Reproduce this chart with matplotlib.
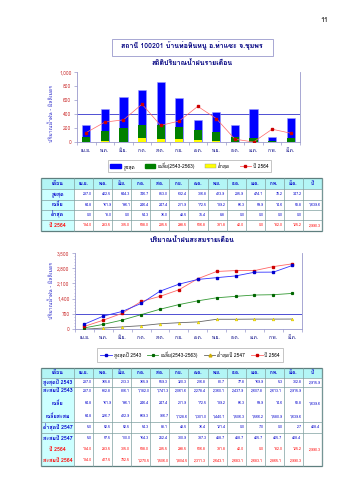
import numpy as np
import matplotlib
matplotlib.use('Agg')
import matplotlib.pyplot as plt
from matplotlib import font_manager
from matplotlib.ft2font import FT2Font
from matplotlib.patches import Rectangle
from matplotlib.lines import Line2D

W, H = 339, 480

# --- data read from the page ---
station = 'สถานี 100201 บ้านท่อทินหนู อ.ท่าแซะ จ.ชุมพร'
title1 = 'สถิติปริมาณน้ำฝนรายเดือน'
title2 = 'ปริมาณน้ำฝนสะสมรายเดือน'
ylabel = 'ปริมาณน้ำฝน - มิลลิเมตร'
months = ['เม.ย.', 'พ.ค.', 'มิ.ย.', 'ก.ค.', 'ส.ค.', 'ก.ย.',
          'ต.ค.', 'พ.ย.', 'ธ.ค.', 'ม.ค.', 'ก.พ.', 'มี.ค.']

max_rain = [237.0, 462.5, 644.3, 746.7, 853.0, 632.4, 316.8, 423.9, 235.9, 474.1, 78.2, 347.2]
avg_rain = [64.8, 161.9, 196.1, 246.4, 247.4, 211.9, 172.5, 139.2, 66.3, 59.9, 14.6, 58.8]
min_rain = [0.0, 18.0, 0.0, 54.3, 36.0, 48.5, 35.4, 8.8, 0.0, 0.0, 0.0, 0.0]
rain_2564 = [134.0, 283.5, 315.0, 538.0, 235.5, 298.5, 506.8, 331.8, 40.0, 0.0, 182.0, 125.2]

max_2543 = [237.0, 365.8, 213.3, 365.9, 559.3, 320.3, 216.8, 81.7, 77.8, 169.9, 5.3, 302.8]
min_2547 = [5.0, 52.5, 52.5, 54.3, 88.1, 48.5, 36.4, 121.4, 0.0, 7.0, 0.0, 2.7]

cum_max_2543 = [237.0, 602.8, 816.1, 1182.0, 1741.3, 2061.6, 2278.4, 2360.1, 2437.9, 2607.8, 2613.1, 2915.9]
cum_avg = [64.8, 226.7, 422.9, 669.3, 916.7, 1128.6, 1301.0, 1440.1, 1506.3, 1566.2, 1580.9, 1639.6]
cum_min_2547 = [5.0, 57.5, 110.0, 164.3, 252.4, 300.9, 337.3, 458.7, 458.7, 465.7, 465.7, 468.4]
cum_2564 = [134.0, 417.5, 732.5, 1270.5, 1506.0, 1804.5, 2311.3, 2643.1, 2683.1, 2683.1, 2865.1, 2990.3]

total_avg = 1639.6
total_2564 = 2990.3
total_max_2543 = 2915.9
total_min_2547 = 468.4


def find_thai_font():
    # pick any installed family that has Thai glyphs
    for f in font_manager.fontManager.ttflist:
        try:
            if 0x0E01 in FT2Font(f.fname).get_charmap():
                return f.name
        except Exception:
            pass
    return 'DejaVu Sans'


thai = find_thai_font()
plt.rcParams['font.family'] = [thai, 'DejaVu Sans']

NAVY = '#000080'
BLUE_TXT = '#0000CC'
RED_TXT = '#FF0000'
TICK_RED = '#CC3333'
AXIS = '#9999CC'


def box(x0, y0, x1, y1):
    return [x0 / W, 1 - y1 / H, (x1 - x0) / W, (y1 - y0) / H]


def fmt(v):
    return f'{v:,.1f}'


fig = plt.figure(figsize=(W / 100, H / 100), dpi=100)
fig.patch.set_facecolor('white')

page = fig.add_axes([0, 0, 1, 1])
page.set_xlim(0, W)
page.set_ylim(H, 0)
page.axis('off')

page.text(324, 20, '11', fontsize=5, ha='center', va='center', color='black')
page.add_patch(Rectangle((112, 39), 161, 17, fill=False, ec='#9999CC', lw=0.6))
page.text(192, 46, station, fontsize=5, fontweight='bold', ha='center', va='center', color=NAVY)
page.text(192, 63, title1, fontsize=5, fontweight='bold', ha='center', va='center', color=NAVY)
page.text(192, 240, title2, fontsize=5, fontweight='bold', ha='center', va='center', color=NAVY)


def style_axes(ax):
    for s in ['left', 'bottom', 'right']:
        ax.spines[s].set_color(AXIS)
        ax.spines[s].set_linewidth(0.6)
    ax.spines['top'].set_visible(False)
    ax.set_xlim(-0.5, 11.5)
    ax.set_xticks(np.arange(12))
    ax.set_xticklabels(months, fontsize=3.5, color=NAVY)
    ax.set_xticks(np.arange(-0.5, 12, 1), minor=True)
    ax.tick_params(axis='x', which='major', length=0, pad=4)
    ax.tick_params(axis='x', which='minor', length=2, color=AXIS, width=0.5)
    ax.tick_params(axis='y', labelsize=3.5, labelcolor=TICK_RED, length=2,
                   color=AXIS, width=0.5, pad=2)
    ax.yaxis.set_major_formatter(matplotlib.ticker.FuncFormatter(lambda v, p: f'{v:,.0f}'))


# --- chart 1: monthly rainfall ---
x = np.arange(12)
ax1 = fig.add_axes(box(77, 71.7, 300, 142))
ax1.bar(x, max_rain, 0.44, color='#0000FF', edgecolor='#9999FF', lw=0.4, zorder=2)
ax1.bar(x, avg_rain, 0.44, color='#008000', zorder=3)
ax1.bar(x, min_rain, 0.44, color='#FFFF00', zorder=4)
ax1.axhline(400, color='#3333CC', lw=0.6, zorder=1)
ax1.plot(x, rain_2564, color='#FF6666', lw=0.5, marker='s', ms=1.8,
         mfc='#CC0000', mec='#CC0000', zorder=5)
ax1.set_ylim(0, 1000)
ax1.set_yticks(np.arange(0, 1001, 200))
style_axes(ax1)
fig.text(51.7 / W, 1 - 113 / H, ylabel, rotation=90, fontsize=3.8, color='#3333CC',
         ha='center', va='center')

h1 = [Rectangle((0, 0), 1, 1, color='#0000FF'),
      Rectangle((0, 0), 1, 1, color='#008000'),
      Rectangle((0, 0), 1, 1, color='#FFFF00', ec='#999999', lw=0.3),
      Line2D([], [], color='#FF6666', lw=0.6, marker='s', ms=1.8, mfc='#CC0000', mec='#CC0000')]
leg1 = fig.legend(h1, ['สูงสุด', 'เฉลี่ย(2543-2563)', 'ต่ำสุด', 'ปี 2564'],
                  loc='center', bbox_to_anchor=(189.5 / W, 1 - 166 / H), ncol=4,
                  fontsize=3.5, frameon=True, fancybox=False, edgecolor='#999999',
                  handlelength=2.2, handleheight=0.9, columnspacing=2.0,
                  borderpad=0.5, handletextpad=0.5)
leg1.get_frame().set_linewidth(0.5)

# --- chart 2: cumulative rainfall ---
ax2 = fig.add_axes(box(75, 252.7, 301.7, 329.3))
ax2.axhline(700, color='#3333CC', lw=0.6, zorder=1)
ax2.plot(x, cum_min_2547, color='#666666', lw=0.6, marker='^', ms=2,
         mfc='#FFFF00', mec='#CCAA00', mew=0.3, zorder=3)
ax2.plot(x, cum_avg, color='#339933', lw=0.6, marker='s', ms=1.3,
         mfc='#006600', mec='#006600', zorder=3)
ax2.plot(x, cum_2564, color='#FF6666', lw=0.6, marker='s', ms=1.6,
         mfc='#CC0000', mec='#CC0000', zorder=4)
ax2.plot(x, cum_max_2543, color='#3333FF', lw=0.6, marker='s', ms=2,
         mfc='#0000CC', mec='#0000CC', zorder=4)
ax2.set_ylim(0, 3500)
ax2.set_yticks(np.arange(0, 3501, 700))
ax2.set_yticks(np.arange(0, 3501, 140), minor=True)
ax2.tick_params(axis='y', which='minor', length=1, color=AXIS, width=0.4)
style_axes(ax2)
fig.text(51 / W, 1 - 290 / H, ylabel, rotation=90, fontsize=3.8, color='#3333CC',
         ha='center', va='center')

h2 = [Line2D([], [], color='#3333FF', lw=0.6, marker='s', ms=2, mfc='#0000CC', mec='#0000CC'),
      Line2D([], [], color='#339933', lw=0.6, marker='s', ms=1.3, mfc='#006600', mec='#006600'),
      Line2D([], [], color='#666666', lw=0.6, marker='^', ms=2, mfc='#FFFF00', mec='#CCAA00'),
      Line2D([], [], color='#FF6666', lw=0.6, marker='s', ms=1.6, mfc='#CC0000', mec='#CC0000')]
leg2 = fig.legend(h2, ['สูงสุดปี 2543', 'เฉลี่ย(2543-2563)', 'ต่ำสุดปี 2547', 'ปี 2564'],
                  loc='center', bbox_to_anchor=(190 / W, 1 - 355 / H), ncol=4,
                  fontsize=3.5, frameon=True, fancybox=False, edgecolor='#999999',
                  handlelength=2.4, columnspacing=1.2, borderpad=0.6, handletextpad=0.4)
leg2.get_frame().set_linewidth(0.5)

# --- tables ---
col_x = [40.7, 74.3] + list(np.linspace(74.3, 321.7, 14)[1:])
header = ['เดือน'] + months + ['ปี']
HEAD_BG = '#B3F5F5'
LABEL_BG = '#CCFFFF'
GRID = '#7F9F9F'


def draw_table(row_y, rows, hlines):
    top, bottom = row_y[0], row_y[-1]
    # header + label column backgrounds
    page.add_patch(Rectangle((col_x[0], top), col_x[-1] - col_x[0], row_y[1] - top,
                             fc=HEAD_BG, ec='none'))
    page.add_patch(Rectangle((col_x[0], row_y[1]), col_x[1] - col_x[0], bottom - row_y[1],
                             fc=LABEL_BG, ec='none'))
    for i, h in enumerate(header):
        cx = (col_x[i] + col_x[i + 1]) / 2
        page.text(cx, (top + row_y[1]) / 2, h, fontsize=3.3 if i else 3.8,
                  fontweight='bold', color=BLUE_TXT, ha='center', va='center')
    for r, (label, vals, total, color) in enumerate(rows):
        cy = (row_y[r + 1] + row_y[r + 2]) / 2
        page.text((col_x[0] + col_x[1]) / 2, cy, label, fontsize=3.8, fontweight='bold',
                  color=color, ha='center', va='center')
        cells = [fmt(v) for v in vals] + ([fmt(total)] if total is not None else [''])
        for c, s in enumerate(cells):
            page.text(col_x[c + 2] - 1.2, cy, s, fontsize=2.6, color=color,
                      ha='right', va='center')
    for cx in col_x:
        page.plot([cx, cx], [top, bottom], color=GRID, lw=0.5)
    for yy in hlines:
        page.plot([col_x[0], col_x[-1]], [yy, yy], color=GRID, lw=0.5)
    page.add_patch(Rectangle((col_x[0], top), col_x[-1] - col_x[0], bottom - top,
                             fill=False, ec='#5F7F7F', lw=0.9))


t1_y = [178.3, 189, 199.5, 209.5, 220, 231]
draw_table(t1_y, [
    ('สูงสุด', max_rain, None, BLUE_TXT),
    ('เฉลี่ย', avg_rain, total_avg, BLUE_TXT),
    ('ต่ำสุด', min_rain, None, BLUE_TXT),
    ('ปี 2564', rain_2564, total_2564, RED_TXT),
], t1_y[1:-1])

t2_y = [367.7, 378.3, 386.5, 395, 411, 421.5, 433, 443.5, 455, 465.7]
draw_table(t2_y, [
    ('สูงสุดปี 2543', max_2543, total_max_2543, BLUE_TXT),
    ('สะสมปี 2543', cum_max_2543, None, BLUE_TXT),
    ('เฉลี่ย', avg_rain, total_avg, BLUE_TXT),
    ('เฉลี่ยสะสม', cum_avg, None, BLUE_TXT),
    ('ต่ำสุดปี 2547', min_2547, total_min_2547, BLUE_TXT),
    ('สะสมปี 2547', cum_min_2547, None, BLUE_TXT),
    ('ปี 2564', rain_2564, total_2564, RED_TXT),
    ('สะสมปี 2564', cum_2564, None, RED_TXT),
], [t2_y[1], t2_y[2], t2_y[5], t2_y[6]])

fig.savefig('out.png', dpi=100)
